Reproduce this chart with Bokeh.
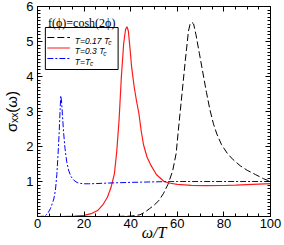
import numpy as np
from bokeh.plotting import figure
from bokeh.models import LinearAxis, FixedTicker, Label, Range1d
from bokeh.embed import file_html
from bokeh.resources import INLINE

# ---------------- data ----------------
w_017 = [0, 30, 40, 44, 46, 48, 50, 52, 54, 56, 58, 59.5, 60.5, 62, 63.5, 64.8, 65.5, 66.2, 67, 68,
         69.5, 71, 72.5, 74, 75.5, 77, 79, 81.5, 84, 87, 90, 93.5, 97, 100]
s_017 = [0, 0, 0.01, 0.05, 0.12, 0.22, 0.32, 0.45, 0.65, 0.92, 1.3, 1.8, 2.5, 3.5, 4.5, 5.3, 5.5, 5.55, 5.5, 5.2,
         4.65, 4.1, 3.55, 3.05, 2.65, 2.35, 2.05, 1.8, 1.62, 1.45, 1.32, 1.2, 1.08, 1.0]

w_03 = [0, 10, 16, 20, 23, 26, 28, 30, 31.5, 33, 34, 35, 36, 37, 37.8, 38.4, 39, 39.7, 40.4, 41.5, 42.5,
        43.5, 44.5, 45.5, 47, 48.7, 51, 54.3, 57, 60, 66, 72, 80, 85, 90, 95, 100]
s_03 = [0, 0, 0.01, 0.03, 0.08, 0.18, 0.33, 0.55, 0.82, 1.22, 1.85, 2.75, 4.0, 4.95, 5.35, 5.42, 5.3, 4.8, 4.27, 3.7, 3.3,
        2.95, 2.45, 2.05, 1.7, 1.46, 1.2, 1.0, 0.95, 0.92, 0.89, 0.88, 0.885, 0.895, 0.91, 0.925, 0.94]

w_tc = [0, 2, 3.5, 4.5, 5.5, 6.3, 7, 7.7, 8.3, 8.8, 9.3, 9.7, 10.0, 10.3, 10.7, 11.2, 11.8, 12.5, 13.3, 14.3,
        15.5, 17, 18.5, 20, 22, 25, 30, 35, 40, 50, 60, 70, 80, 90, 100]
s_tc = [0, 0.005, 0.03, 0.1, 0.22, 0.36, 0.5, 0.75, 1.2, 1.75, 2.4, 3.05, 3.45, 3.3, 2.9, 2.4, 1.95, 1.58, 1.33, 1.15,
        1.04, 0.97, 0.945, 0.935, 0.935, 0.94, 0.955, 0.965, 0.975, 0.99, 1.0, 1.0, 1.0, 1.0, 1.0]

x_ticks = [0, 20, 40, 60, 80, 100]
x_minor = list(range(0, 101, 5))
y_ticks = [0, 1, 2, 3, 4, 5, 6]
y_minor = [i / 10 for i in range(0, 61)]

legend_title = "f(ϕ)=cosh(2ϕ)"
legend_labels = ["T=0.17 T", "T=0.3 T", "T=T"]
legend_sub = "c"
x_label = "ω/T"
y_label = "σₓₓ(ω)"

# ---------------- layout ----------------
W, H = 284, 245
FL, FR, FT, FB = 33, 14, 6, 29
X0, X1, Y0, Y1 = 0, 100, 0, 6
fw = W - FL - FR
fh = H - FT - FB


def sx(px):
    return X0 + (px - FL) / fw * (X1 - X0)


def sy(py):
    return Y0 + (H - FB - py) / fh * (Y1 - Y0)


p = figure(width=W, height=H, x_range=Range1d(X0, X1), y_range=Range1d(Y0, Y1),
           output_backend="svg", toolbar_location=None, min_border=0,
           min_border_left=FL, min_border_right=FR, min_border_top=FT, min_border_bottom=FB,
           x_axis_location=None, y_axis_location=None)
p.grid.visible = False
p.outline_line_color = "black"
p.outline_line_width = 1
p.background_fill_color = "white"
p.border_fill_color = "white"

xt = FixedTicker(ticks=x_ticks, minor_ticks=x_minor)
yt = FixedTicker(ticks=y_ticks, minor_ticks=y_minor)


def style(ax, labels):
    ax.major_tick_in = 5
    ax.major_tick_out = 0
    ax.minor_tick_in = 3
    ax.minor_tick_out = 0
    ax.axis_line_color = "black"
    ax.major_tick_line_color = "black"
    ax.minor_tick_line_color = "black"
    if labels:
        ax.major_label_text_font = "Liberation Sans"
        ax.major_label_text_font_size = "13px"
        ax.major_label_text_color = "black"
    else:
        ax.major_label_text_font_size = "0px"
        ax.major_label_text_color = None
        ax.major_label_standoff = 0


bx = LinearAxis(ticker=xt, axis_label=x_label)
style(bx, True)
bx.major_label_standoff = 2
bx.axis_label_text_font = "Liberation Serif"
bx.axis_label_text_font_style = "italic"
bx.axis_label_text_font_size = "16px"
bx.axis_label_text_color = "black"
bx.axis_label_standoff = -7
p.add_layout(bx, "below")

tx = LinearAxis(ticker=xt)
style(tx, False)
p.add_layout(tx, "above")

ly = LinearAxis(ticker=yt, axis_label=y_label)
style(ly, True)
ly.major_label_standoff = 4
ly.major_label_overrides = {0: ""}
ly.axis_label_text_font = "Liberation Sans"
ly.axis_label_text_font_style = "normal"
ly.axis_label_text_font_size = "15px"
ly.axis_label_text_color = "black"
ly.axis_label_standoff = 3
p.add_layout(ly, "left")

ry = LinearAxis(ticker=yt)
style(ry, False)
p.add_layout(ry, "right")

# ---------------- curves ----------------
c_blk, c_red, c_blu = "black", "#ff1a1a", "#0000ff"
d_blk, d_blu = "7 3", "6 2 2 2"
p.line(w_017, s_017, line_color=c_blk, line_width=1, line_dash=d_blk)
p.line(w_03, s_03, line_color=c_red, line_width=1.2)
p.line(w_tc, s_tc, line_color=c_blu, line_width=1, line_dash=d_blu)

# ---------------- legend (drawn by hand: box, samples, texts) ----------------
p.quad(left=[sx(41)], right=[sx(115)], top=[sy(27)], bottom=[sy(69)],
       fill_color=None, line_color="black", line_width=1)
p.add_layout(Label(x=sx(78), y=sy(22.5), text=legend_title, text_align="center",
                   text_baseline="alphabetic", text_font="Liberation Serif",
                   text_font_size="12px", text_color="black"))
rows = [37, 47.5, 58]
styles = [(c_blk, d_blk, 1), (c_red, "solid", 1.2), (c_blu, d_blu, 1)]
sub_x = [105, 100, 86.5]
for r, (col, dash, lw), lab, cx in zip(rows, styles, legend_labels, sub_x):
    p.line([sx(43), sx(66)], [sy(r), sy(r)], line_color=col, line_dash=dash, line_width=lw)
    p.add_layout(Label(x=sx(71), y=sy(r + 3), text=lab, text_align="left",
                       text_baseline="alphabetic", text_font="Liberation Sans",
                       text_font_style="italic", text_font_size="8.5px", text_color="black"))
    p.add_layout(Label(x=sx(cx), y=sy(r + 5), text=legend_sub, text_align="left",
                       text_baseline="alphabetic", text_font="Liberation Sans",
                       text_font_style="italic", text_font_size="6.5px", text_color="black"))

open("out.html", "w").write(file_html(p, INLINE))
